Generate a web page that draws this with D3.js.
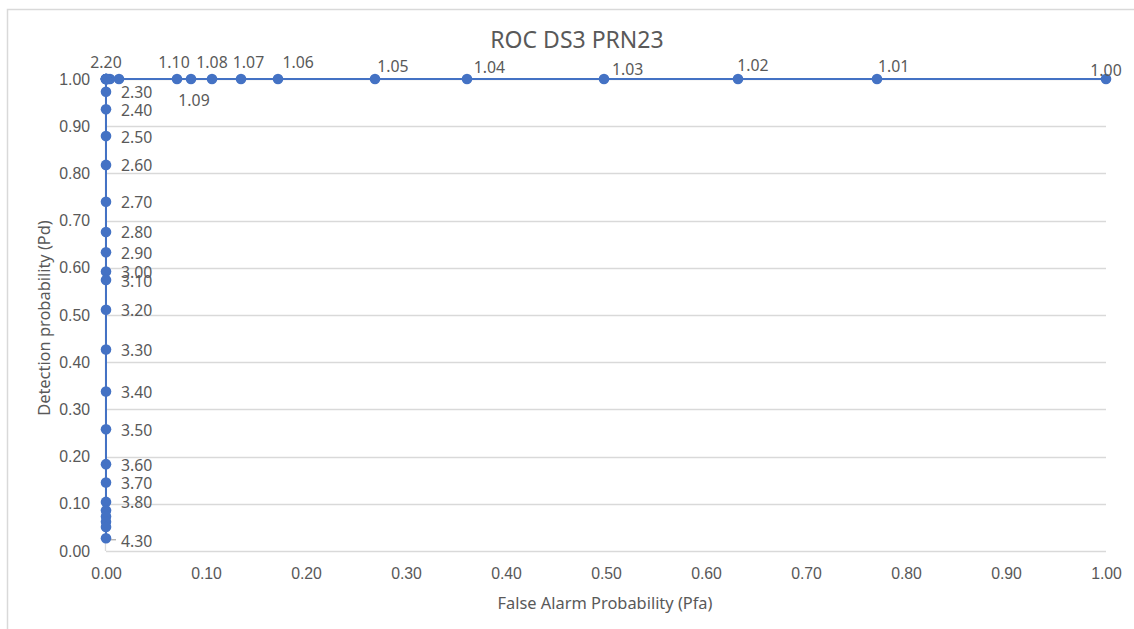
<!DOCTYPE html>
<html>
<head>
<meta charset="utf-8">
<script src="https://cdn.jsdelivr.net/npm/d3@7"></script>
<style>
  html, body { margin: 0; padding: 0; background: #fff; }
  svg { display: block; font-family: "Noto Sans", "Open Sans", sans-serif; }
</style>
</head>
<body>
<svg id="chart" width="1134" height="629"></svg>
<script>
// Detector thresholds and the resulting operating points (Pfa, Pd)
const thresholds = [
  1.00, 1.01, 1.02, 1.03, 1.04, 1.05, 1.06, 1.07, 1.08, 1.09, 1.10,
  1.20, 1.30, 1.40, 1.50, 1.60, 1.70, 1.80, 1.90, 2.00, 2.10, 2.20,
  2.30, 2.40, 2.50, 2.60, 2.70, 2.80, 2.90, 3.00, 3.10, 3.20, 3.30,
  3.40, 3.50, 3.60, 3.70, 3.80, 3.90, 4.00, 4.10, 4.20, 4.30
];
const pfa = [
  1.000, 0.771, 0.632, 0.498, 0.361, 0.269, 0.172, 0.135, 0.106, 0.085, 0.071,
  0.013, 0.004, 0.002, 0.001, 0.000, 0.000, 0.000, 0.000, 0.000, 0.000, 0.000,
  0.000, 0.000, 0.000, 0.000, 0.000, 0.000, 0.000, 0.000, 0.000, 0.000, 0.000,
  0.000, 0.000, 0.000, 0.000, 0.000, 0.000, 0.000, 0.000, 0.000, 0.000
];
const pd = [
  1.000, 1.000, 1.000, 1.000, 1.000, 1.000, 1.000, 1.000, 1.000, 1.000, 1.000,
  1.000, 1.000, 1.000, 1.000, 1.000, 1.000, 1.000, 1.000, 1.000, 1.000, 1.000,
  0.973, 0.936, 0.879, 0.818, 0.740, 0.676, 0.633, 0.592, 0.574, 0.511, 0.427,
  0.338, 0.258, 0.184, 0.145, 0.104, 0.086, 0.073, 0.062, 0.051, 0.027
];
// Thresholds whose data label is displayed
const labelledThresholds = [
  1.00, 1.01, 1.02, 1.03, 1.04, 1.05, 1.06, 1.07, 1.08, 1.09, 1.10, 2.20,
  2.30, 2.40, 2.50, 2.60, 2.70, 2.80, 2.90, 3.00, 3.10, 3.20, 3.30, 3.40,
  3.50, 3.60, 3.70, 3.80, 4.30
];
const xTicks = [0, 0.1, 0.2, 0.3, 0.4, 0.5, 0.6, 0.7, 0.8, 0.9, 1.0];
const yTicks = [0, 0.1, 0.2, 0.3, 0.4, 0.5, 0.6, 0.7, 0.8, 0.9, 1.0];

const titleText = "ROC DS3 PRN23";
const xTitle = "False Alarm Probability (Pfa)";
const yTitle = "Detection probability (Pd)";

// Label placement: [dx, dy, text-anchor] relative to the marker
const labelPlacement = {
  "1.00": [0, -3.5, "middle"],
  "1.01": [1, -6.7, "start"],
  "1.02": [-0.7, -8.3, "start"],
  "1.03": [8, -4.3, "start"],
  "1.04": [6.7, -6.3, "start"],
  "1.05": [2.3, -6.7, "start"],
  "1.06": [4.4, -10.7, "start"],
  "1.07": [7.5, -10.7, "middle"],
  "1.08": [0, -10.7, "middle"],
  "1.09": [3, 26.7, "middle"],
  "1.10": [-3, -10.7, "middle"],
  "2.20": [0, -10.7, "middle"],
  "4.30": [15, 8.3, "start"]
};
const defaultPlacement = [15, 6.5, "start"];

const svg = d3.select("#chart");
const W = 1134, H = 629;
const textColor = "#595959";
const gridColor = "#d9d9d9";
const seriesColor = "#4472C4";
const labelSize = "15.8px";

// Chart area frame
svg.append("rect")
  .attr("x", 7.5).attr("y", 9.5)
  .attr("width", W + 40).attr("height", H + 40)
  .attr("fill", "#fff")
  .attr("stroke", gridColor).attr("stroke-width", 1.5);

const plot = { left: 106, right: 1106, top: 79, bottom: 551 };
const x = d3.scaleLinear().domain([0, 1]).range([plot.left, plot.right]);
const y = d3.scaleLinear().domain([0, 1]).range([plot.bottom, plot.top]);

// Horizontal gridlines
svg.append("g")
  .selectAll("line")
  .data(yTicks.filter(d => d > 0))
  .join("line")
  .attr("x1", plot.left).attr("x2", plot.right)
  .attr("y1", d => Math.round(y(d)) + 0.5).attr("y2", d => Math.round(y(d)) + 0.5)
  .attr("stroke", gridColor).attr("stroke-width", 1.3);

// Axis lines
svg.append("line")
  .attr("x1", plot.left).attr("x2", plot.right)
  .attr("y1", plot.bottom + 0.5).attr("y2", plot.bottom + 0.5)
  .attr("stroke", gridColor).attr("stroke-width", 1.3);
svg.append("line")
  .attr("x1", plot.left - 0.5).attr("x2", plot.left - 0.5)
  .attr("y1", plot.top).attr("y2", plot.bottom)
  .attr("stroke", gridColor).attr("stroke-width", 1.3);

// X axis tick labels
const xAxis = d3.axisBottom(x).tickValues(xTicks).tickFormat(d3.format(".2f")).tickSize(0).tickPadding(17);
const gx = svg.append("g").attr("transform", `translate(0,${plot.bottom})`).call(xAxis);
gx.select(".domain").remove();
gx.selectAll("text").attr("fill", textColor).style("font-size", labelSize);

// Y axis tick labels
const yAxis = d3.axisLeft(y).tickValues(yTicks).tickFormat(d3.format(".2f")).tickSize(0).tickPadding(16);
const gy = svg.append("g").attr("transform", `translate(${plot.left},0)`).call(yAxis);
gy.select(".domain").remove();
gy.selectAll("text").attr("fill", textColor).style("font-size", labelSize);

// Title and axis titles
svg.append("text")
  .attr("x", 577).attr("y", 48)
  .attr("text-anchor", "middle")
  .attr("fill", textColor)
  .style("font-size", "23px")
  .text(titleText);

svg.append("text")
  .attr("x", (plot.left + plot.right) / 2 - 1).attr("y", 609)
  .attr("text-anchor", "middle")
  .attr("fill", textColor)
  .style("font-size", "16.4px")
  .text(xTitle);

svg.append("text")
  .attr("transform", `translate(50,${(plot.top + plot.bottom) / 2 + 3}) rotate(-90)`)
  .attr("text-anchor", "middle")
  .attr("fill", textColor)
  .style("font-size", "16.4px")
  .text(yTitle);

// Series data
const points = thresholds.map((t, i) => ({ t, fa: pfa[i], d: pd[i] }));

// Leader line for the relocated 4.30 label
const last = points[points.length - 1];
svg.append("line")
  .attr("x1", x(last.fa) + 4).attr("x2", x(last.fa) + 10)
  .attr("y1", y(last.d) + 1.5).attr("y2", y(last.d) + 1.5)
  .attr("stroke", "#a6a6a6").attr("stroke-width", 1.2);

// Series line
svg.append("path")
  .datum(points)
  .attr("fill", "none")
  .attr("stroke", seriesColor)
  .attr("stroke-width", 2)
  .attr("d", d3.line().x(p => x(p.fa)).y(p => y(p.d)));

// Markers
svg.append("g")
  .selectAll("circle")
  .data(points)
  .join("circle")
  .attr("cx", p => x(p.fa))
  .attr("cy", p => y(p.d))
  .attr("r", 5.3)
  .attr("fill", seriesColor);

// Data labels
const labelSet = new Set(labelledThresholds.map(v => v.toFixed(2)));
svg.append("g")
  .selectAll("text")
  .data(points.filter(p => labelSet.has(p.t.toFixed(2))))
  .join("text")
  .each(function (p) {
    const key = p.t.toFixed(2);
    const [dx, dy, anchor] = labelPlacement[key] || defaultPlacement;
    d3.select(this)
      .attr("x", x(p.fa) + dx)
      .attr("y", y(p.d) + dy)
      .attr("text-anchor", anchor);
  })
  .attr("fill", textColor)
  .style("font-size", labelSize)
  .text(p => p.t.toFixed(2));
</script>
</body>
</html>
